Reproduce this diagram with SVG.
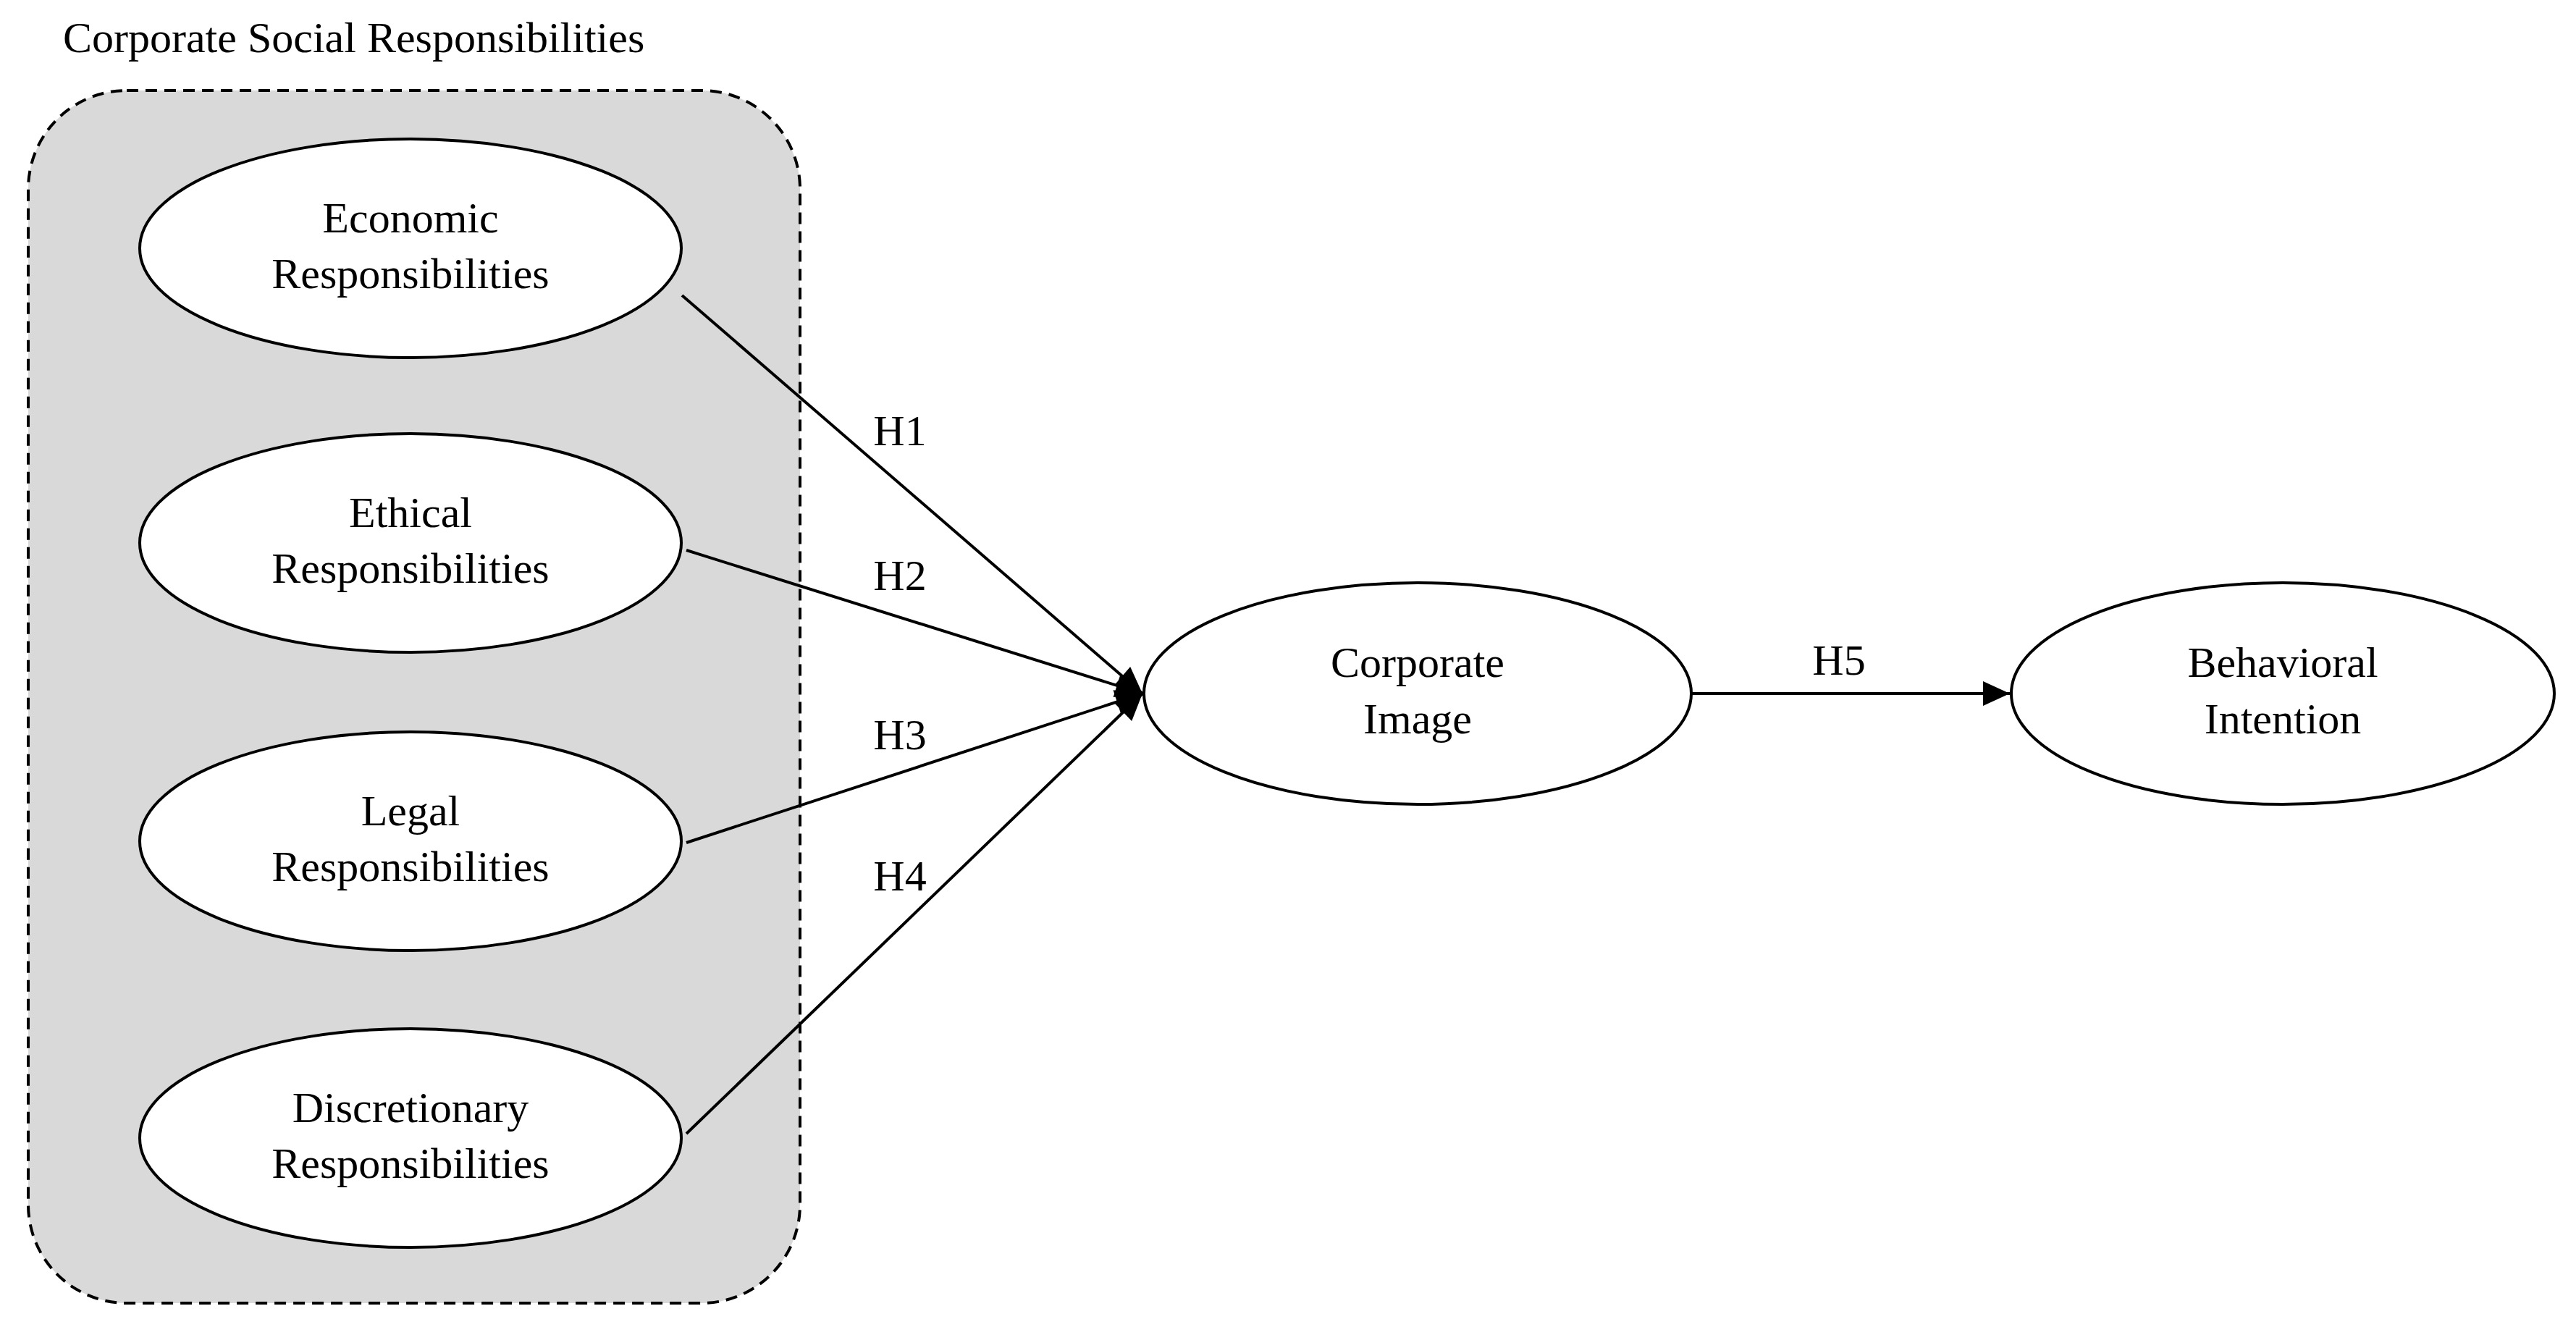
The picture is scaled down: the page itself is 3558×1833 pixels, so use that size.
<svg xmlns="http://www.w3.org/2000/svg" width="3558" height="1833" viewBox="0 0 3558 1833">
<style>
text{font-family:"Liberation Serif",serif;font-size:60px;fill:#000;text-anchor:middle}
.n{fill:#fff;stroke:#000;stroke-width:4}
.c{stroke:#000;stroke-width:4;fill:none}
</style>
<defs><marker id="a" markerWidth="10" markerHeight="10" refX="9" refY="5" orient="auto" markerUnits="userSpaceOnUse" viewBox="0 0 10 10" style="overflow:visible"><path d="M-28,-12 L9,5 L-28,22 Z" fill="#000"/></marker></defs>
<rect width="3558" height="1833" fill="#fff"/>
<g id="csr"><text x="87" y="72" style="text-anchor:start">Corporate Social Responsibilities</text>
<rect x="39" y="125" width="1066" height="1675" rx="136" fill="#d9d9d9" stroke="#000" stroke-width="4" stroke-dasharray="16,10"/></g>
<g id="econ"><ellipse class="n" cx="567" cy="343" rx="374" ry="151"/><text x="567" y="321">Economic</text><text x="567" y="398">Responsibilities</text></g>
<g id="eth"><ellipse class="n" cx="567" cy="750" rx="374" ry="151"/><text x="567" y="728">Ethical</text><text x="567" y="805">Responsibilities</text></g>
<g id="legal"><ellipse class="n" cx="567" cy="1162" rx="374" ry="151"/><text x="567" y="1140">Legal</text><text x="567" y="1217">Responsibilities</text></g>
<g id="disc"><ellipse class="n" cx="567" cy="1572" rx="374" ry="151"/><text x="567" y="1550">Discretionary</text><text x="567" y="1627">Responsibilities</text></g>
<g id="ci"><ellipse class="n" cx="1958" cy="958" rx="378" ry="153"/><text x="1958" y="935">Corporate</text><text x="1958" y="1013">Image</text></g>
<g id="bi"><ellipse class="n" cx="3153" cy="958" rx="375" ry="153"/><text x="3153" y="935">Behavioral</text><text x="3153" y="1013">Intention</text></g>
<g id="connectors">
<path class="c" d="M942,408 L1578,958" marker-end="url(#a)"/>
<path class="c" d="M948,760 L1578,958" marker-end="url(#a)"/>
<path class="c" d="M948,1164 L1578,958" marker-end="url(#a)"/>
<path class="c" d="M948,1566 L1578,958" marker-end="url(#a)"/>
<path class="c" d="M2336,958 L2776,958" marker-end="url(#a)"/>
<text x="1243" y="615">H1</text><text x="1243" y="815">H2</text><text x="1243" y="1035">H3</text><text x="1243" y="1230">H4</text><text x="2540" y="932">H5</text>
</g>
</svg>
